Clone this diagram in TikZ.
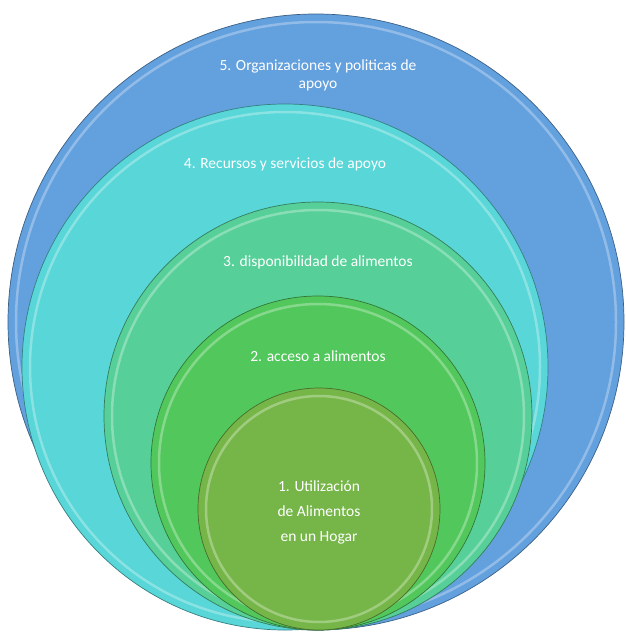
\documentclass[tikz,border=0pt]{standalone}
\usepackage{fontspec}
\setmainfont{Carlito}
\usetikzlibrary{calc}

\definecolor{ringfive}{RGB}{99,160,222}
\definecolor{ringfour}{RGB}{88,214,216}
\definecolor{ringthree}{RGB}{86,208,152}
\definecolor{ringtwo}{RGB}{82,200,92}
\definecolor{ringone}{RGB}{118,182,72}

\begin{document}
\begin{tikzpicture}[x=1pt,y=-1pt,
  disk/.style={fill=#1, draw=#1!60!black, line width=0.7pt},
  gloss/.style={draw=white, opacity=0.3, line width=2.5pt},
  lbl/.style={text=white, font=\fontsize{15.5}{18}\selectfont, align=center}]

% background
\useasboundingbox (0,0) rectangle (625,632);
\fill[white] (0,0) rectangle (625,632);

% outer circle: organizations
\coordinate (o5) at (316,322);
\draw[disk=ringfive] (o5) circle (308);
\draw[gloss] (o5) circle (300);

% resources and services
\coordinate (o4) at (285,367);
\draw[disk=ringfour] (o4) circle (263);
\draw[gloss] (o4) circle (255);

% availability
\coordinate (o3) at (318,416);
\draw[disk=ringthree] (o3) circle (214);
\draw[gloss] (o3) circle (206);

% access
\coordinate (o2) at (318,463);
\draw[disk=ringtwo] (o2) circle (167);
\draw[gloss] (o2) circle (159);

% inner circle: household use
\coordinate (o1) at (319,509);
\draw[disk=ringone] (o1) circle (121);
\draw[gloss] (o1) circle (113);

% labels
\node[lbl] (t5) at (318,75) {5. Organizaciones y politicas de\\apoyo};
\node[lbl] (t4) at (285,164) {4. Recursos y servicios de apoyo};
\node[lbl] (t3) at (318,262) {3. disponibilidad de alimentos};
\node[lbl] (t2) at (318,356) {2. acceso a alimentos};
\node[lbl, font=\fontsize{15.5}{25}\selectfont] (t1) at (319,512) {1. Utilización\\de Alimentos\\en un Hogar};

\end{tikzpicture}
\end{document}
